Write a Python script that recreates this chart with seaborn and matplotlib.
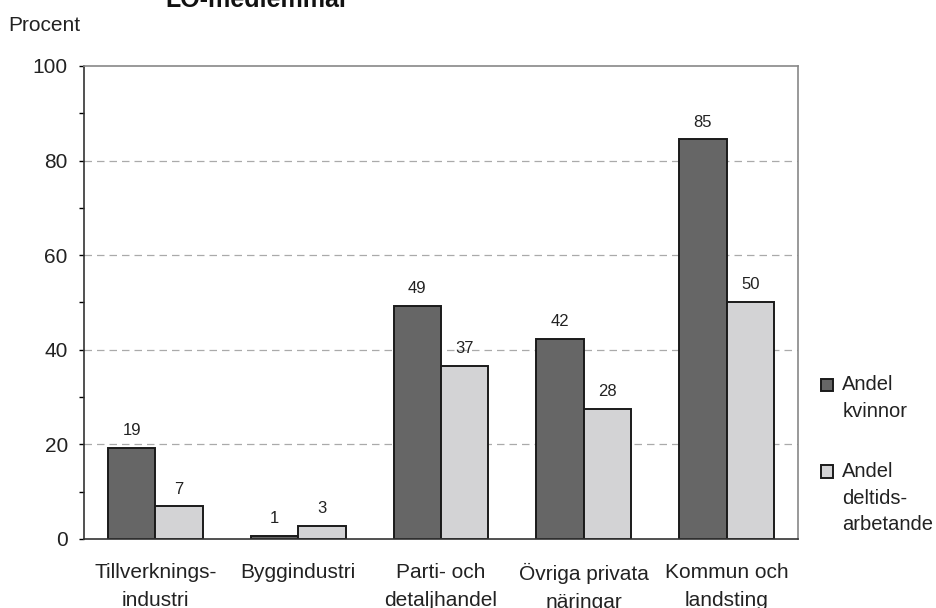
import pandas as pd
import numpy as np
import matplotlib
matplotlib.use("Agg")
import matplotlib.pyplot as plt
import seaborn as sns
from matplotlib.ticker import MultipleLocator

categories = ["Tillverknings-\nindustri", "Byggindustri", "Parti- och\ndetaljhandel",
              "Övriga privata\nnäringar", "Kommun och\nlandsting"]
series = ["Andel\nkvinnor", "Andel\ndeltids-\narbetande"]
kvinnor = [19.3, 0.7, 49.3, 42.3, 84.5]
deltid = [6.9, 2.7, 36.6, 27.5, 50.1]
kvinnor_labels = ["19", "1", "49", "42", "85"]
deltid_labels = ["7", "3", "37", "28", "50"]

df = pd.DataFrame({
    "kategori": categories * 2,
    "serie": [series[0]] * 5 + [series[1]] * 5,
    "procent": kvinnor + deltid,
})

sns.set_style("white")
plt.rcParams["font.family"] = ["Liberation Sans", "DejaVu Sans"]

fig = plt.figure(figsize=(9.37, 6.08), dpi=100)
ax = fig.add_axes([0.0896, 0.1135, 0.762, 0.778])

sns.barplot(data=df, x="kategori", y="procent", hue="serie",
            palette=["#666666", "#d3d3d5"], edgecolor="#1a1a1a", linewidth=1.4,
            width=0.664, gap=0, ax=ax, legend=True)

# value labels
for cont, labs in zip(ax.containers, [kvinnor_labels, deltid_labels]):
    ax.bar_label(cont, labels=labs, padding=7, fontsize=12, color="#222222")

ax.set_ylim(0, 100)
ax.set_xlim(-0.5, 4.5)
ax.yaxis.set_major_locator(MultipleLocator(20))
ax.yaxis.set_minor_locator(MultipleLocator(10))
ax.tick_params(axis="y", which="both", direction="out", left=True, length=3.6,
               width=1, labelsize=15, colors="black", pad=8)
ax.set_xticks(range(len(categories)))
ax.set_xticklabels(categories, linespacing=1.6, color="#222222")
ax.tick_params(axis="x", length=0, labelsize=15, pad=17)
for lab in ax.get_yticklabels():
    lab.set_color("#222222")
ax.set_xlabel("")
ax.set_ylabel("")

for y in [20, 40, 60, 80]:
    ax.axhline(y, color="#aaaaaa", linestyle=(0, (6, 4)), linewidth=0.9, zorder=0)

ax.spines["left"].set_color("#333333")
ax.spines["bottom"].set_color("#333333")
ax.spines["top"].set_color("#888888")
ax.spines["right"].set_color("#888888")
for s in ax.spines.values():
    s.set_linewidth(1.2)

fs = 14.5
ls = 1.5
leg = ax.legend(loc="upper left", bbox_to_anchor=(1.0, 0.395), frameon=False,
                fontsize=fs, handlelength=0.6, handleheight=0.6,
                handletextpad=0.45, labelspacing=2.05, borderaxespad=0.75)
for t in leg.get_texts():
    t.set_color("#222222")
    t.set_linespacing(ls)
# put each square next to the first line of its label
for h, lab in zip(leg.legend_handles, series):
    h.set_edgecolor("#1a1a1a")
    h.set_linewidth(1.4)
    n = lab.count("\n")
    h.set_y(h.get_y() + 0.5 * n * fs * ls * 0.887)

fig.text(0.009, 0.958, "Procent", fontsize=15, color="#222222", va="center")
fig.text(0.275, 0.989, "LO-medlemmar", fontsize=18, fontweight="bold",
         ha="center", va="baseline", color="#111111")

fig.savefig("out.png", dpi=100)
